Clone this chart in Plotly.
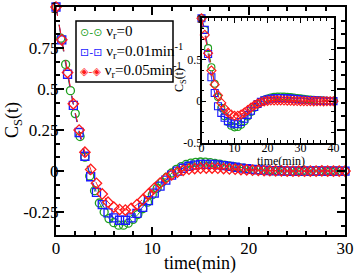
import plotly.graph_objects as go

# ---------------- main panel data ----------------
t_g = [0.0, 0.5, 1.0, 1.5, 2.0, 2.5, 3.0, 3.5, 4.0, 4.5, 5.0, 5.5, 6.0, 6.5, 7.0, 7.5,
       8.0, 8.5, 9.0, 9.5, 10.0, 10.5, 11.0, 11.5, 12.0, 12.5, 13.0, 13.5, 14.0, 14.5,
       15.0, 15.5, 16.0, 16.5, 17.0, 17.5, 18.0, 18.5, 19.0, 19.5, 20.0, 20.5, 21.0,
       21.5, 22.0, 22.5, 23.0, 23.5, 24.0, 24.5, 25.0, 25.5, 26.0, 26.5, 27.0, 27.5,
       28.0, 28.5, 29.0, 29.5, 30.0]
c_green = [1.00, 0.81, 0.65, 0.49, 0.35, 0.21, 0.085, -0.03, -0.12, -0.195, -0.25, -0.29,
           -0.315, -0.33, -0.33, -0.318, -0.295, -0.265, -0.23, -0.19, -0.145, -0.105,
           -0.068, -0.038, -0.012, 0.01, 0.027, 0.04, 0.048, 0.053, 0.055, 0.054, 0.051,
           0.047, 0.042, 0.036, 0.031, 0.026, 0.021, 0.017, 0.013, 0.01, 0.008, 0.006,
           0.004, 0.003, 0.002, 0.001, 0.001, 0.0, 0.0, -0.001, -0.001, 0.0, 0.0, 0.001,
           0.0, 0.0, 0.0, 0.0, 0.0]

t_br = [0.0, 0.6, 1.2, 1.8, 2.4, 3.0, 3.6, 4.2, 4.8, 5.4, 6.0, 6.6, 7.2, 7.8, 8.4, 9.0,
        9.6, 10.2, 10.8, 11.4, 12.0, 12.6, 13.2, 13.8, 14.4, 15.0, 15.6, 16.2, 16.8, 17.4,
        18.0, 18.6, 19.2, 19.8, 20.4, 21.0, 21.6, 22.2, 22.8, 23.4, 24.0, 24.6, 25.2,
        25.8, 26.4, 27.0, 27.6, 28.2, 28.8, 29.4, 30.0]
c_blue = [1.00, 0.80, 0.59, 0.40, 0.235, 0.09, -0.035, -0.13, -0.205, -0.255, -0.285,
          -0.30, -0.30, -0.285, -0.258, -0.222, -0.18, -0.135, -0.092, -0.055, -0.025,
          0.0, 0.017, 0.029, 0.036, 0.04, 0.041, 0.04, 0.037, 0.033, 0.028, 0.023, 0.018,
          0.014, 0.01, 0.007, 0.005, 0.003, 0.002, 0.001, 0.0, 0.0, -0.001, 0.0, 0.0,
          0.001, 0.0, 0.0, 0.0, 0.0, 0.0]
c_red = [1.00, 0.80, 0.60, 0.41, 0.25, 0.115, 0.01, -0.075, -0.14, -0.19, -0.22, -0.235,
         -0.238, -0.228, -0.205, -0.175, -0.14, -0.105, -0.073, -0.045, -0.023, -0.007,
         0.004, 0.011, 0.015, 0.017, 0.018, 0.018, 0.017, 0.015, 0.013, 0.011, 0.009,
         0.007, 0.005, 0.004, 0.003, 0.002, 0.001, 0.001, 0.0, 0.0, -0.001, -0.001, 0.0,
         0.0, 0.001, 0.0, 0.0, 0.0, 0.0]

# ---------------- inset data ----------------
t_in = [0, 1, 2, 3, 4, 5, 6, 7, 8, 9, 10, 11, 12, 13, 14, 15, 16, 17, 18, 19, 20,
        21, 22, 23, 24, 25, 26, 27, 28, 29, 30, 31, 32, 33, 34, 35, 36, 37, 38, 39, 40]
in_green = [1.0, 0.86, 0.64, 0.41, 0.21, 0.05, -0.08, -0.18, -0.25, -0.295, -0.315,
            -0.31, -0.285, -0.24, -0.185, -0.13, -0.08, -0.04, -0.008, 0.016, 0.033,
            0.045, 0.052, 0.056, 0.057, 0.056, 0.053, 0.049, 0.044, 0.039, 0.034, 0.029,
            0.024, 0.02, 0.016, 0.013, 0.01, 0.008, 0.006, 0.005, 0.004]
in_blue = [1.0, 0.86, 0.57, 0.29, 0.10, -0.06, -0.14, -0.20, -0.24, -0.265, -0.278,
           -0.272, -0.25, -0.212, -0.165, -0.115, -0.07, -0.034, -0.008, 0.01, 0.022,
           0.03, 0.035, 0.037, 0.037, 0.036, 0.034, 0.031, 0.028, 0.025, 0.021, 0.018,
           0.015, 0.012, 0.01, 0.008, 0.006, 0.004, 0.003, 0.002, 0.001]
in_red = [1.0, 0.80, 0.58, 0.37, 0.20, 0.07, -0.02, -0.09, -0.135, -0.16, -0.175, -0.175,
          -0.16, -0.137, -0.108, -0.078, -0.05, -0.028, -0.012, -0.001, 0.005, 0.009,
          0.011, 0.011, 0.01, 0.009, 0.007, 0.006, 0.004, 0.003, 0.002, 0.001, 0.0, 0.0,
          -0.001, 0.0, 0.0, -0.001, 0.0, 0.0, 0.0]

names = ["ν<sub>r</sub>=0", "ν<sub>r</sub>=0.01min<sup>-1</sup>", "ν<sub>r</sub>=0.05min<sup>-1</sup>"]
key_glyphs = ["⊙-⊙", "⊡-⊡", "◈-◈"]
colors = ["#1fa01f", "#1a1aff", "#ff1a1a"]
symbols = ["circle-open", "square-open", "diamond-open"]

FONT = "Liberation Serif"

fig = go.Figure()
main_sets = [(t_g, c_green), (t_br, c_blue), (t_br, c_red)]
for (tx, cy), nm, col, sym in zip(main_sets, names, colors, symbols):
    fig.add_trace(go.Scatter(
        x=tx, y=cy, name=nm, mode="lines+markers", cliponaxis=False, showlegend=False,
        line=dict(color=col, width=1, dash="dash"),
        marker=dict(symbol=sym, size=8, color=col, line=dict(color=col, width=1.3)),
        xaxis="x", yaxis="y"))

for cy, nm, col, sym in zip([in_green, in_blue, in_red], names, colors, symbols):
    fig.add_trace(go.Scatter(
        x=t_in, y=cy, name=nm, mode="lines+markers", cliponaxis=False, showlegend=False,
        line=dict(color=col, width=1, dash="dash"),
        marker=dict(symbol=sym, size=7, color=col, line=dict(color=col, width=1.1)),
        xaxis="x2", yaxis="y2"))

axis_common = dict(showgrid=False, zeroline=False, showline=True, linecolor="black",
                   mirror="ticks", ticks="inside", tickcolor="black", automargin=False,
                   ticklabeloverflow="allow")

W, H = 354, 273
ML, MR, MT, MB = 56, 9, 7, 38
PW, PH = W - ML - MR, H - MT - MB


def px_x(p):  # page pixel -> paper fraction
    return (p - ML) / PW


def px_y(p):
    return (H - MB - p) / PH


fig.update_layout(
    width=W, height=H,
    margin=dict(l=ML, r=MR, t=MT, b=MB),
    paper_bgcolor="white", plot_bgcolor="white",
    font=dict(family=FONT, color="black"),
    showlegend=False,
    xaxis=dict(**axis_common, domain=[0, 1], range=[0, 30], linewidth=2,
               tickvals=[0, 10, 20, 30], ticktext=["0", "10", "20", "30"], ticklen=8,
               tickwidth=1.5, tickfont=dict(size=17, family=FONT), ticklabelstandoff=-3,
               minor=dict(dtick=2, ticks="inside", ticklen=4, tickcolor="black")),
    yaxis=dict(**axis_common, domain=[0, 1], range=[-0.39, 1.0], linewidth=2,
               tickvals=[-0.25, 0, 0.25, 0.5, 0.75, 1],
               ticktext=["-0.25", "0", "0.25", "0.5", "0.75", "1"], ticklen=8,
               tickwidth=1.5, tickfont=dict(size=17, family=FONT), ticklabelstandoff=-8,
               minor=dict(dtick=0.25 / 3, ticks="inside", ticklen=4, tickcolor="black")),
    xaxis2=dict(**axis_common, domain=[px_x(201.5), px_x(333.5)], anchor="y2", range=[0, 40],
                linewidth=1.5, tickvals=[0, 10, 20, 30, 40],
                ticktext=["0", "10", "20", "30", "40"], ticklen=5, tickwidth=1,
                tickfont=dict(size=12, family=FONT), ticklabelstandoff=-7,
                minor=dict(dtick=2, ticks="inside", ticklen=3, tickcolor="black")),
    yaxis2=dict(**axis_common, domain=[px_y(142.7), px_y(18.3)], anchor="x2", range=[-0.5, 1.0],
                linewidth=1.5, tickvals=[-0.5, 0, 0.5, 1],
                ticktext=["-0.5", "0", "0.5", "1"], ticklen=5, tickwidth=1,
                tickfont=dict(size=12, family=FONT), ticklabelstandoff=-5,
                minor=dict(dtick=0.125, ticks="inside", ticklen=3, tickcolor="black")),
)

# axis titles
titles = [
    ("time(min)", 200, 263, 18, 0),
    ("C<sub>S</sub>(t)", 13, 120, 18, -90),
    ("time(min)", 281, 161, 12, 0),
    ("C<sub>S</sub>(t)", 180, 80, 12, -90),
]
for txt, xp, yp, fs, ang in titles:
    fig.add_annotation(xref="paper", yref="paper", x=px_x(xp), y=px_y(yp),
                       xanchor="center", yanchor="middle", showarrow=False, textangle=ang,
                       text=txt, font=dict(size=fs, family=FONT, color="black"))

# legend box drawn as a framed white panel with one text line per series
fig.add_shape(type="rect", xref="paper", yref="paper",
              x0=px_x(76), x1=px_x(173), y0=px_y(82), y1=px_y(21),
              line=dict(color="black", width=1.5), fillcolor="white", layer="above")
row_y = [32, 51, 70]
for ry, nm, g, col in zip(row_y, names, key_glyphs, colors):
    fig.add_annotation(
        xref="paper", yref="paper", x=px_x(78), y=px_y(ry), xanchor="left", yanchor="middle",
        showarrow=False,
        text=f'<span style="color:{col};font-family:DejaVu Sans;font-size:11px">{g}</span> {nm}',
        font=dict(size=15, family=FONT, color="black"))

fig.write_html("out.html", config={"displayModeBar": False},
               post_script="document.body.style.margin='0';document.body.style.padding='0';")
